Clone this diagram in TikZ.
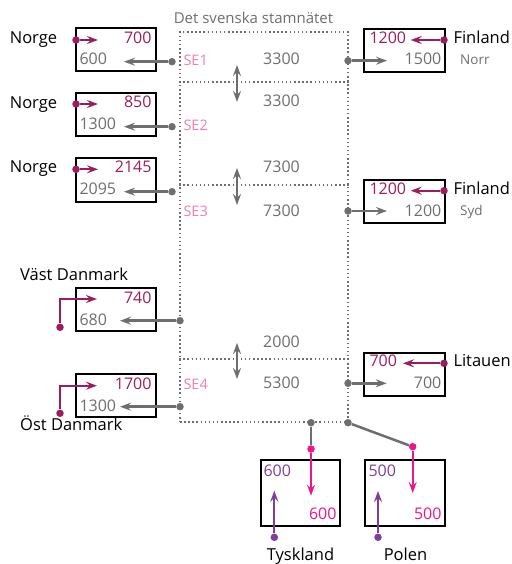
\documentclass[tikz,border=0pt]{standalone}
\usepackage{fontspec}
\setmainfont{Open Sans}
\usetikzlibrary{arrows.meta}
\definecolor{dkmag}{HTML}{9B1D5E}
\definecolor{sepink}{HTML}{EE7DB7}
\definecolor{hotpink}{HTML}{EC168C}
\definecolor{purp}{HTML}{7F3F98}
\definecolor{gr}{HTML}{6D6E71}
\begin{document}
\begin{tikzpicture}[x=1bp,y=-1bp,
  box/.style={draw=black, line width=2bp, minimum width=80bp, minimum height=43bp, inner sep=0},
  num/.style={font=\fontsize{16bp}{19bp}\selectfont, inner sep=0, text=gr},
  lbl/.style={font=\fontsize{16.5bp}{19bp}\selectfont, inner sep=0, text=black},
  small/.style={font=\fontsize{13.5bp}{16bp}\selectfont, inner sep=0, text=gr},
  selbl/.style={font=\fontsize{14.5bp}{17bp}\selectfont, inner sep=0, text=sepink},
  dot/.style={circle, fill=#1, inner sep=0, minimum size=7.5bp},
  tipa/.tip={Stealth[length=11bp,width=8bp,inset=4bp]},
  garr/.style={draw=gr, line width=2.5bp, -tipa},
  gline/.style={draw=gr, line width=2.5bp},
  marr/.style={draw=dkmag, line width=2bp, -tipa},
  parr/.style={draw=hotpink, line width=2bp, -tipa},
  uarr/.style={draw=purp, line width=2bp, -tipa},
  darr/.style={draw=gr, line width=2bp, tipa-tipa},
  dotl/.style={draw=gr, line width=1.5bp, dash pattern=on 1.5bp off 2.6bp}
]
\useasboundingbox (0,0) rectangle (512,564);

% title
\node[font=\fontsize{15bp}{18bp}\selectfont, text=gr, inner sep=0, anchor=base] (title) at (253.5,23.3) {Det svenska stamnätet};

% central grid
\node[dotl, minimum width=168bp, minimum height=390bp, inner sep=0] (grid) at (264,227) {};
\coordinate (dv1) at (264,82);
\coordinate (dv2) at (264,185);
\coordinate (dv3) at (264,359);
\draw[dotl] (grid.west |- dv1) -- (grid.east |- dv1);
\draw[dotl] (grid.west |- dv2) -- (grid.east |- dv2);
\draw[dotl] (grid.west |- dv3) -- (grid.east |- dv3);

% SE labels
\node[selbl, anchor=base west] (se1) at (183.3,65.7) {SE1};
\node[selbl, anchor=base west] (se2) at (183.3,130.7) {SE2};
\node[selbl, anchor=base west] (se3) at (183.3,216.7) {SE3};
\node[selbl, anchor=base west] (se4) at (183.3,389) {SE4};

% central numbers
\node[num, anchor=base west] (c1) at (263,65) {3300};
\node[num, anchor=base west] (c2) at (263,106.7) {3300};
\node[num, anchor=base west] (c3) at (263,172.3) {7300};
\node[num, anchor=base west] (c4) at (263,216) {7300};
\node[num, anchor=base west] (c5) at (263,347.3) {2000};
\node[num, anchor=base west] (c6) at (263,388.3) {5300};

% double arrows
\coordinate (da1a) at (237,65); \coordinate (da1b) at (237,102);
\coordinate (da2a) at (237,168); \coordinate (da2b) at (237,205);
\coordinate (da3a) at (237,343); \coordinate (da3b) at (237,379);
\draw[darr] (da1a) -- (da1b);
\draw[darr] (da2a) -- (da2b);
\draw[darr] (da3a) -- (da3b);

% ---------- left boxes ----------
% Norge 1
\node[box] (bn1) at (116,50) {};
\node[lbl, anchor=base east] (ln1) at (57.3,43.3) {Norge};
\node[num, text=dkmag, anchor=base east] (n1a) at (151.7,43.3) {700};
\node[num, anchor=base west] (n1b) at (79.3,65) {600};
\node[dot=dkmag] (mn1) at (76,40) {};
\coordinate (mn1t) at (98,40);
\draw[marr] (mn1) -- (mn1t);
\node[dot=gr] (gn1) at (172,61.7) {};
\coordinate (gn1t) at (124,61.7);
\draw[garr] (gn1) -- (gn1t);

% Norge 2
\node[box] (bn2) at (116,114.5) {};
\node[lbl, anchor=base east] (ln2) at (57.3,108.3) {Norge};
\node[num, text=dkmag, anchor=base east] (n2a) at (151.7,107.7) {850};
\node[num, anchor=base west] (n2b) at (79.3,129.7) {1300};
\node[dot=dkmag] (mn2) at (76,104) {};
\coordinate (mn2t) at (98,104);
\draw[marr] (mn2) -- (mn2t);
\node[dot=gr] (gn2) at (172,126.7) {};
\coordinate (gn2t) at (124,126.7);
\draw[garr] (gn2) -- (gn2t);

% Norge 3
\node[box] (bn3) at (116,180) {};
\node[lbl, anchor=base east] (ln3) at (57.3,172.3) {Norge};
\node[num, text=dkmag, anchor=base east] (n3a) at (151.7,172.3) {2145};
\node[num, anchor=base west] (n3b) at (79.3,194.3) {2095};
\node[dot=dkmag] (mn3) at (76,169.3) {};
\coordinate (mn3t) at (98,169.3);
\draw[marr] (mn3) -- (mn3t);
\node[dot=gr] (gn3) at (172,191.7) {};
\coordinate (gn3t) at (124,191.7);
\draw[garr] (gn3) -- (gn3t);

% Väst Danmark
\node[box] (bvd) at (116,309.5) {};
\node[lbl, anchor=base west] (lvd) at (20,280) {Väst Danmark};
\node[num, text=dkmag, anchor=base east] (vda) at (151.7,303.3) {740};
\node[num, anchor=base west] (vdb) at (79.3,325) {680};
\node[dot=dkmag] (mvd) at (60,327.3) {};
\coordinate (mvdc) at (60,299);
\coordinate (mvdt) at (97,299);
\draw[marr] (mvd) -- (mvdc) -- (mvdt);
\node[dot=gr] (gvd) at (180,320.7) {};
\coordinate (gvdt) at (120,320.7);
\draw[garr] (gvd) -- (gvdt);

% Öst Danmark
\node[box] (bod) at (116,395) {};
\node[lbl, anchor=base west] (lod) at (20,430.7) {Öst Danmark};
\node[num, text=dkmag, anchor=base east] (oda) at (151.7,389) {1700};
\node[num, anchor=base west] (odb) at (79.3,411.3) {1300};
\node[dot=dkmag] (mod) at (60,413.3) {};
\coordinate (modc) at (60,385.7);
\coordinate (modt) at (97,385.7);
\draw[marr] (mod) -- (modc) -- (modt);
\node[dot=gr] (god) at (180,406.7) {};
\coordinate (godt) at (120,406.7);
\draw[garr] (god) -- (godt);

% ---------- right boxes ----------
% Finland Norr
\node[box, minimum width=81bp] (bfn) at (404.5,50.5) {};
\node[lbl, anchor=base west] (lfn) at (453.3,43.3) {Finland};
\node[small, anchor=base west] (lfn2) at (460,64.3) {Norr};
\node[num, text=dkmag, anchor=base west] (fna) at (369.3,43.3) {1200};
\node[num, anchor=base east] (fnb) at (441.5,65) {1500};
\node[dot=dkmag] (mfn) at (444,40) {};
\coordinate (mfnt) at (410.7,40);
\draw[marr] (mfn) -- (mfnt);
\node[dot=gr] (gfn) at (348,60.7) {};
\coordinate (gfnt) at (387,60.7);
\draw[garr] (gfn) -- (gfnt);

% Finland Syd
\node[box, minimum width=81bp] (bfs) at (404.5,201.5) {};
\node[lbl, anchor=base west] (lfs) at (453.3,194.3) {Finland};
\node[small, anchor=base west] (lfs2) at (460,215) {Syd};
\node[num, text=dkmag, anchor=base west] (fsa) at (369.3,194.3) {1200};
\node[num, anchor=base east] (fsb) at (441.5,216) {1200};
\node[dot=dkmag] (mfs) at (444,190.7) {};
\coordinate (mfst) at (410.7,190.7);
\draw[marr] (mfs) -- (mfst);
\node[dot=gr] (gfs) at (348,211) {};
\coordinate (gfst) at (387,211);
\draw[garr] (gfs) -- (gfst);

% Litauen
\node[box, minimum width=81bp] (bli) at (404.5,374) {};
\node[lbl, anchor=base west] (lli) at (453.3,366.7) {Litauen};
\node[num, text=dkmag, anchor=base west] (lia) at (369.3,366.7) {700};
\node[num, anchor=base east] (lib) at (441.5,388.3) {700};
\node[dot=dkmag] (mli) at (444,363.3) {};
\coordinate (mlit) at (403,363.3);
\draw[marr] (mli) -- (mlit);
\node[dot=gr] (gli) at (348,383.3) {};
\coordinate (glit) at (386.7,383.3);
\draw[garr] (gli) -- (glit);

% ---------- bottom boxes ----------
% Tyskland
\node[box, minimum width=79bp, minimum height=66bp] (bty) at (300.5,492.5) {};
\node[lbl, anchor=base] (lty) at (300.5,560.7) {Tyskland};
\node[num, text=purp, anchor=base west] (tya) at (263.3,476) {600};
\node[num, text=hotpink, anchor=base east] (tyb) at (336.7,519.3) {600};
\node[dot=gr] (gty) at (311,422.7) {};
\node[dot=hotpink] (pty) at (311,449) {};
\coordinate (ptyt) at (311,495.7);
\draw[gline] (gty) -- (pty);
\draw[parr] (pty) -- (ptyt);
\node[dot=purp] (uty) at (274.3,537.3) {};
\coordinate (utyt) at (274.3,490.7);
\draw[uarr] (uty) -- (utyt);

% Polen
\node[box, minimum width=80bp, minimum height=66bp] (bpo) at (405,492.5) {};
\node[lbl, anchor=base] (lpo) at (405.5,560.7) {Polen};
\node[num, text=purp, anchor=base west] (poa) at (368.3,476) {500};
\node[num, text=hotpink, anchor=base east] (pob) at (441.7,519.3) {500};
\node[dot=gr] (gpo) at (348,422.7) {};
\node[dot=hotpink] (ppo) at (412.7,446.7) {};
\coordinate (ppot) at (412.7,493);
\draw[gline] (gpo) -- (ppo);
\draw[parr] (ppo) -- (ppot);
\node[dot=purp] (upo) at (378,537.3) {};
\coordinate (upot) at (378,491);
\draw[uarr] (upo) -- (upot);
\end{tikzpicture}
\end{document}
